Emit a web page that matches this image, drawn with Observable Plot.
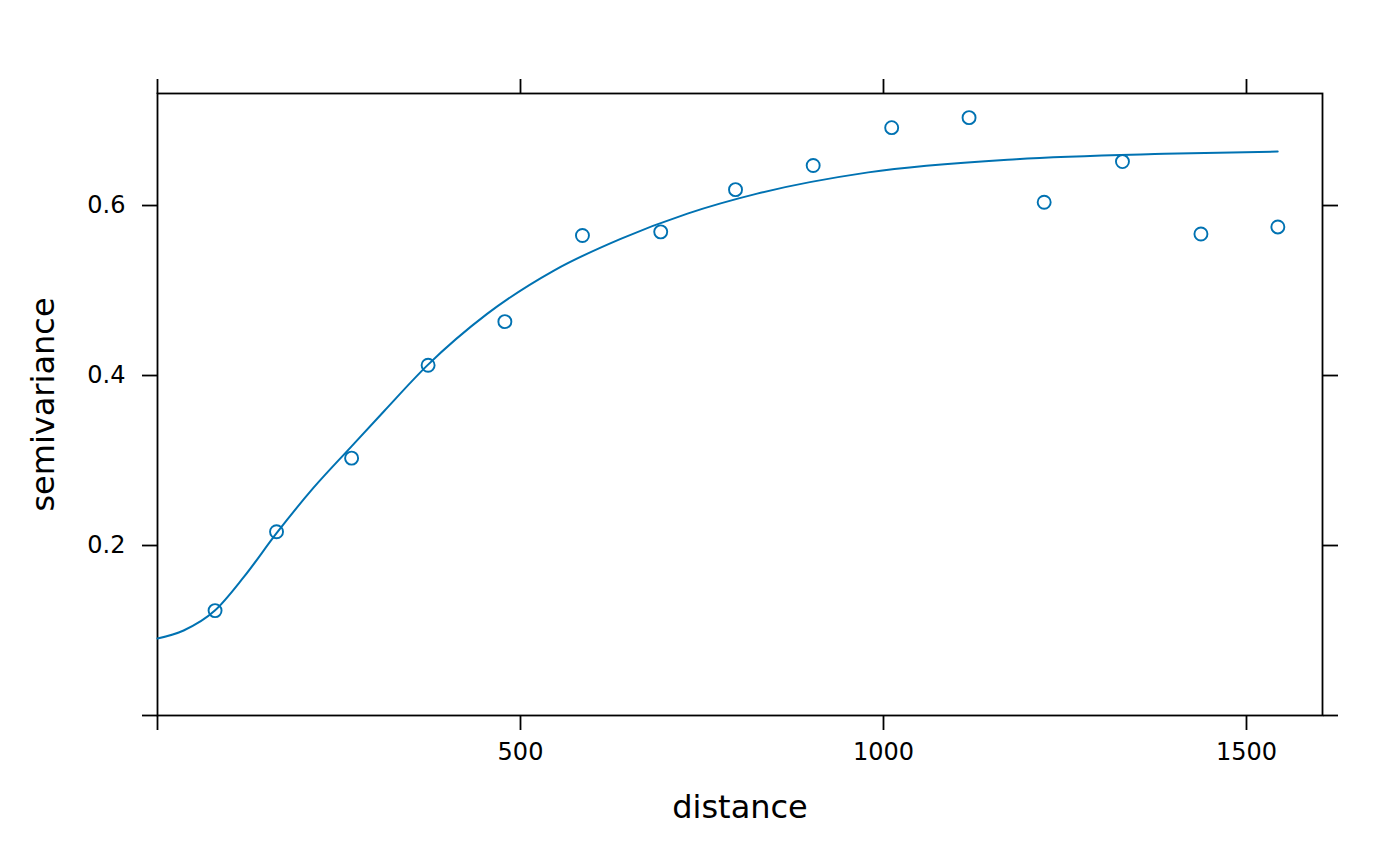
<!DOCTYPE html>
<html>
<head>
<meta charset="utf-8">
<script src="https://cdn.jsdelivr.net/npm/d3@7"></script>
<script src="https://cdn.jsdelivr.net/npm/@observablehq/plot@0.6"></script>
<style>
  html, body { margin: 0; padding: 0; background: #fff; }
  #chart { width: 1400px; height: 866px; }
</style>
</head>
<body>
<div id="chart"></div>
<script>
// Sample variogram (points)
const distances = [79.29, 163.97, 267.36, 372.74, 478.48, 585.34, 693.15, 796.18, 903.15, 1011.29, 1117.86, 1221.33, 1329.16, 1437.26, 1543.20];
const gammas = [0.1234, 0.2162, 0.3028, 0.4121, 0.4634, 0.5647, 0.5690, 0.6187, 0.6471, 0.6916, 0.7034, 0.6039, 0.6517, 0.5665, 0.5748];

// Fitted model curve
const modelDist = [0, 36, 79, 119, 164, 215, 266, 312, 372, 454, 546, 638, 730, 826, 979, 1183, 1387, 1543];
const modelGamma = [0.0906, 0.100, 0.1234, 0.163, 0.2145, 0.268, 0.3155, 0.358, 0.4122, 0.4725, 0.5235, 0.5608, 0.5905, 0.6140, 0.639, 0.6545, 0.6608, 0.6635];

// Axis ticks
const xTicks = [0, 500, 1000, 1500];
const yTicks = [0, 0.2, 0.4, 0.6];

const color = "#0072B2";
const points = distances.map((d, i) => ({dist: d, gamma: gammas[i]}));
const model = modelDist.map((d, i) => ({dist: d, gamma: modelGamma[i]}));

const chart = Plot.plot({
  width: 1400,
  height: 866,
  marginLeft: 157,
  marginRight: 78,
  marginTop: 93,
  marginBottom: 151,
  style: {fontFamily: "DejaVu Sans", background: "#fff", color: "#000"},
  x: {domain: [0, 1604.7]},
  y: {domain: [0, 0.7318]},
  marks: [
    Plot.axisX({anchor: "bottom", ticks: xTicks, tickSize: 15, tickPadding: 12, fontSize: 24, strokeWidth: 1.8,
      tickFormat: d => d === 0 ? "" : String(d), label: null}),
    Plot.axisX({anchor: "top", ticks: xTicks, tickSize: 15, strokeWidth: 1.8, tickFormat: () => "", label: null}),
    Plot.axisY({anchor: "left", ticks: yTicks, tickSize: 15, tickPadding: 17, fontSize: 24, strokeWidth: 1.8,
      tickFormat: d => d === 0 ? "" : d3.format(".1f")(d), label: null}),
    Plot.axisY({anchor: "right", ticks: yTicks, tickSize: 15, strokeWidth: 1.8, tickFormat: () => "", label: null}),
    Plot.frame({stroke: "#000", strokeWidth: 1.8}),
    Plot.line(model, {x: "dist", y: "gamma", stroke: color, strokeWidth: 2, curve: "monotone-x"}),
    Plot.dot(points, {x: "dist", y: "gamma", r: 6.5, stroke: color, strokeWidth: 1.9, fill: "none"}),
    Plot.text(["distance"], {frameAnchor: "bottom", lineAnchor: "middle", textAnchor: "middle", dy: 92, fontSize: 32, fill: "#000"}),
    Plot.text(["semivariance"], {frameAnchor: "left", lineAnchor: "middle", textAnchor: "middle", dx: -114, rotate: -90, fontSize: 32, fill: "#000"})
  ]
});
document.getElementById("chart").appendChild(chart);
</script>
</body>
</html>
